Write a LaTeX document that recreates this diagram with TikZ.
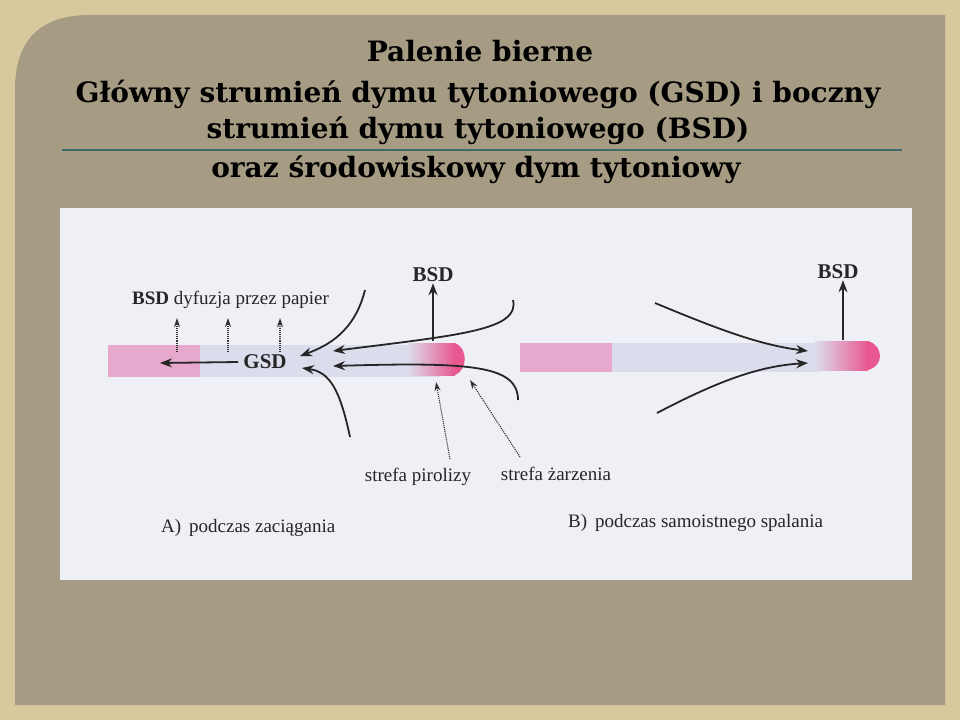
\documentclass[tikz,border=0pt]{standalone}
\usepackage{fontspec}
\setmainfont{Liberation Serif}
\newfontfamily\titlefont{DejaVu Serif}
\usetikzlibrary{positioning,arrows.meta}
\definecolor{frametan}{HTML}{D8C89E}
\definecolor{panelgrey}{HTML}{A69C83}
\definecolor{photo}{HTML}{EEF0F5}
\definecolor{filterpink}{HTML}{E6A8CC}
\definecolor{paper}{HTML}{DCDDEC}
\definecolor{glow}{HTML}{E8578F}
\definecolor{rulecol}{HTML}{3E6A6A}
\tikzset{
  title/.style={font=\titlefont\bfseries\fontsize{28}{30}\selectfont, text=black, inner sep=0pt},
  lab/.style={font=\fontsize{19}{21}\selectfont, text=black!85, inner sep=1pt},
  blab/.style={font=\bfseries\fontsize{21}{23}\selectfont, text=black!85, inner sep=1pt},
  flow/.style={draw=black!85, line width=1.8pt, -{Stealth[length=12pt,width=9pt]}},
  diff/.style={draw=black!80, densely dotted, line width=1.1pt, -{Stealth[length=9pt,width=6pt]}},
}
\begin{document}
\begin{tikzpicture}[x=1pt,y=-1pt]
\fill[frametan] (0,0) rectangle (960,720);
\fill[panelgrey] (15,90) .. controls (15,40) and (40,15) .. (90,15) -- (945,15) -- (945,705) -- (15,705) -- cycle;
% title
\node[title] (t1) at (480,51) {Palenie bierne};
\node[title] (t2) at (478,94) {Główny strumień dymu tytoniowego (GSD) i boczny};
\node[title] (t3) at (478,131) {strumień dymu tytoniowego (BSD)};
\node[title] (t4) at (476,170) {oraz środowiskowy dym tytoniowy};
\coordinate (rl) at (62,150); \coordinate (rr) at (902,150);
\draw[rulecol, line width=1.2pt] (rl) -- (rr);
% photo area
\fill[photo] (60,208) rectangle (912,580);
% cigarette A
\fill[paper] (108,345) rectangle (440,377);
\fill[filterpink] (108,345) rectangle (200,377);
\shade[left color=paper, right color=glow] (408,343) rectangle (455,375);
\fill[glow] (455,343) .. controls (468,348) and (468,370) .. (455,375) -- cycle;
% cigarette B
\fill[paper] (520,343) rectangle (820,372);
\fill[filterpink] (520,343) rectangle (612,372);
\shade[left color=paper, right color=glow] (815,341) rectangle (868,370);
\fill[glow] (868,341) .. controls (884,346) and (884,366) .. (868,370) -- cycle;
% A labels
\node[blab] (gsd) at (265,362) {GSD};
\node[lab, anchor=west] (diffl) at (131,300) {\textbf{BSD} dyfuzja przez papier};
\node[blab] (bsda) at (433,275) {BSD};
\node[lab] (piro) at (418,477) {strefa pirolizy};
\node[lab] (zarz) at (556,474) {strefa żarzenia};
\node[lab, anchor=west] (capa) at (160,528) {A)\, podczas zaciągania};
\node[lab, anchor=west] (capb) at (567,523) {B)\, podczas samoistnego spalania};
\node[blab] (bsdb) at (838,272) {BSD};
% A arrows
\coordinate (gl) at (160,363);
\draw[flow] (gsd.west) ++(-4,0) -- (gl);
\foreach \x in {177,228,280}
  \draw[diff] (\x,352) -- (\x,318);
\coordinate (ca1) at (365,290); \coordinate (ca2) at (350,437);
\coordinate (ea1) at (300,356); \coordinate (ea2) at (302,368);
\draw[flow] (ca1) .. controls (355,330) and (330,345) .. (ea1);
\draw[flow] (ca2) .. controls (340,390) and (330,372) .. (ea2);
\coordinate (cb1) at (513,300); \coordinate (cb2) at (518,400);
\coordinate (eb1) at (333,351); \coordinate (eb2) at (333,366);
\draw[flow] (cb1) .. controls (520,330) and (460,335) .. (eb1);
\draw[flow] (cb2) .. controls (518,365) and (470,362) .. (eb2);
\coordinate (ta) at (433,341);
\draw[flow] (ta) -- (bsda.south);
\coordinate (pa) at (436,382); \coordinate (za) at (470,380);
\draw[diff] (piro.north) ++(32,-8) -- (pa);
\draw[diff] (zarz.north) ++(-36,-9) -- (za);
% B arrows
\coordinate (cc1) at (655,303); \coordinate (cc2) at (657,413);
\coordinate (ec1) at (808,351); \coordinate (ec2) at (808,363);
\draw[flow] (cc1) .. controls (720,330) and (760,345) .. (ec1);
\draw[flow] (cc2) .. controls (720,380) and (760,366) .. (ec2);
\coordinate (tb) at (843,340);
\draw[flow] (tb) -- (bsdb.south -| tb);
\end{tikzpicture}
\end{document}
